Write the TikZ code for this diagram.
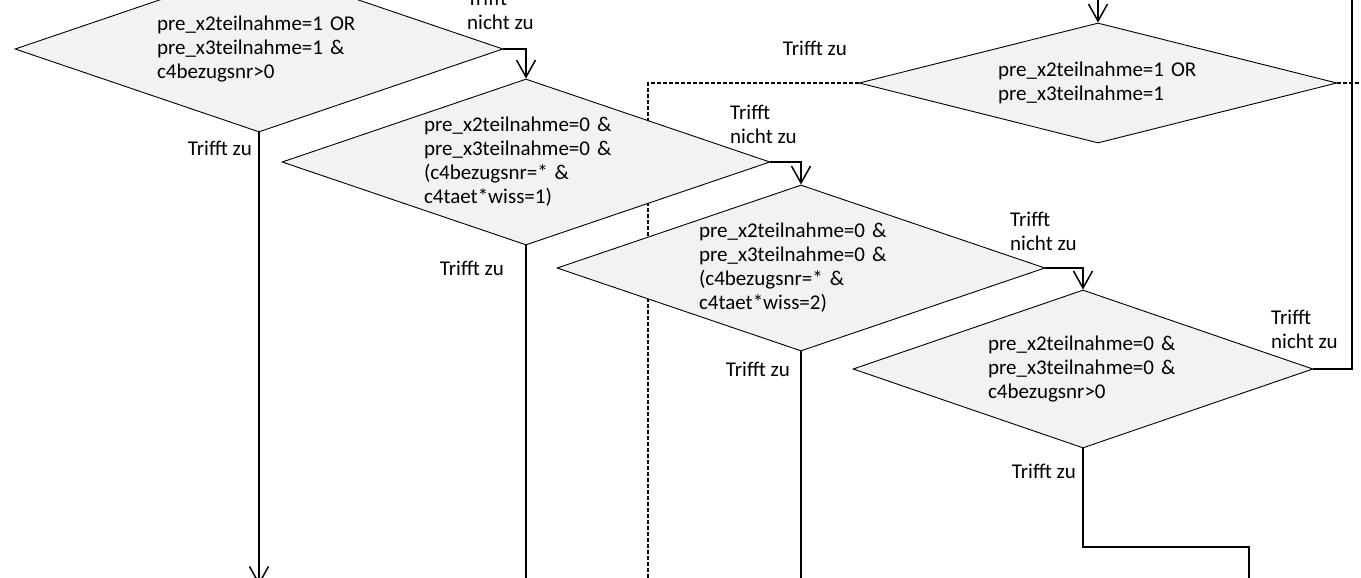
\documentclass[tikz,border=0pt]{standalone}
\usepackage{fontspec}
\setmainfont{Carlito}
\usepackage{tikz}
\usetikzlibrary{arrows.meta,shapes.geometric,backgrounds}
\definecolor{condfill}{HTML}{F2F2F2}

\begin{document}
\begin{tikzpicture}[x=1pt,y=-1pt]
        \tikzset{cond/.style = {shape=diamond,draw,fill=condfill,line width=0.9pt,inner sep=0pt,
                align=left,text width=204pt,font=\fontsize{21}{24}\selectfont,
                shape aspect=2.94,minimum width=488pt,minimum height=166pt}}
        \tikzset{lbl/.style = {inner sep=0pt,align=left,font=\fontsize{21}{24}\selectfont}}
        \tikzset{flow/.style = {line width=1.5pt}}
        \tikzset{edge/.style = {flow,-{Straight Barb[length=17pt,width=19pt]}}}
        \tikzset{dashedge/.style = {line width=1.2pt,dash pattern=on 4pt off 2pt}}
        \useasboundingbox (0,0) rectangle (1361,578);
        % conditions
        \node[cond] (d1) at (259,49) {pre\_x2teilnahme=1 OR\\pre\_x3teilnahme=1 \&\\c4bezugsnr>0};
        \node[cond] (d2) at (526,162) {pre\_x2teilnahme=0 \&\\pre\_x3teilnahme=0 \&\\(c4bezugsnr=* \&\\c4taet*wiss=1)};
        \node[cond] (d3) at (801,268) {pre\_x2teilnahme=0 \&\\pre\_x3teilnahme=0 \&\\(c4bezugsnr=* \&\\c4taet*wiss=2)};
        \node[cond, text width=190pt, shape aspect=2.91, minimum width=460pt, minimum height=158pt] (d4) at (1083,369) {pre\_x2teilnahme=0 \&\\pre\_x3teilnahme=0 \&\\c4bezugsnr>0};
        \node[cond, text width=200pt, shape aspect=3.98, minimum width=478pt, minimum height=120pt] (d5) at (1098,83) {pre\_x2teilnahme=1 OR\\pre\_x3teilnahme=1};

        % labels
        \node[lbl, anchor=west] (n1) at (467,10) {Trifft\\nicht zu};
        \node[lbl, anchor=west] (n2) at (730,124) {Trifft\\nicht zu};
        \node[lbl, anchor=west] (n3) at (1010,231) {Trifft\\nicht zu};
        \node[lbl, anchor=west] (n4) at (1271,329) {Trifft\\nicht zu};
        \node[lbl, anchor=east] (z1) at (252,148) {Trifft zu};
        \node[lbl, anchor=east] (z2) at (504,268) {Trifft zu};
        \node[lbl, anchor=east] (z3) at (790,369) {Trifft zu};
        \node[lbl, anchor=east] (z4) at (1076,471) {Trifft zu};
        \node[lbl, anchor=east] (z5) at (847,48) {Trifft zu};

        % loose ends
        \coordinate (in5) at (1098,-5);
        \coordinate (top4) at (1352,-5);
        \coordinate (out1) at (259,585);
        \coordinate (out2) at (526,585);
        \coordinate (out3) at (801,585);
        \coordinate (bend4) at (1249,547);
        \coordinate (out4) at (1249,585);
        \coordinate (out5) at (648,585);
        \coordinate (side5) at (1370,83);

        %edges
        \draw[edge] (d1.east) -| (d2.north);
        \draw[edge] (d2.east) -| (d3.north);
        \draw[edge] (d3.east) -| (d4.north);
        \draw[flow] (d4.east) -| (top4);
        \draw[edge] (in5) -- (d5.north);
        \draw[edge] (d1.south) -- (out1);
        \draw[flow] (d2.south) -- (out2);
        \draw[flow] (d3.south) -- (out3);
        \draw[flow] (d4.south) |- (bend4) -- (out4);
        \begin{pgfonlayer}{background}
            \draw[dashedge] (d5.west) -| (out5);
            \draw[dashedge] (d5.east) -- (side5);
        \end{pgfonlayer}
\end{tikzpicture}
\end{document}
